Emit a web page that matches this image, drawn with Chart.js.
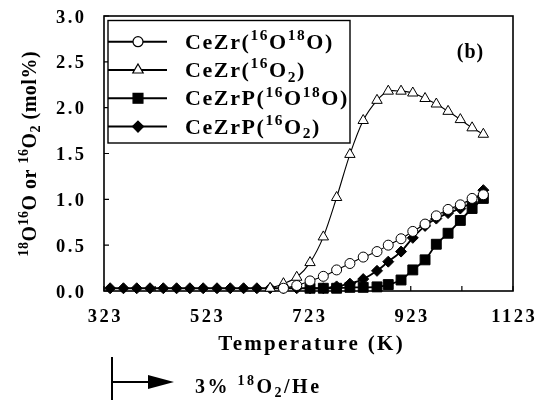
<!DOCTYPE html>
<html>
<head>
<meta charset="utf-8">
<script src="https://cdn.jsdelivr.net/npm/chart.js@4.4.0/dist/chart.umd.min.js"></script>
<style>
  html, body { margin: 0; padding: 0; background: #fff; }
</style>
</head>
<body>
<canvas id="chart" width="537" height="400"></canvas>
<script>
// =============================
// DATOS
// =============================
const temps = [335, 361, 387, 413, 439, 465, 491, 517, 544, 570, 596, 622, 648, 674, 700,
  726, 752, 778, 804, 830, 857, 879, 904, 927, 951, 973, 996, 1020, 1043, 1065];

// CeZr(16O18O) - círculos abiertos
const cezrMixed = [null, null, null, null, null, null, null, null, null, null, null, null, null, 0.03, 0.06,
  0.11, 0.16, 0.23, 0.30, 0.37, 0.43, 0.50, 0.57, 0.65, 0.73, 0.82, 0.89, 0.94, 1.01, 1.05];
// CeZr(16O2) - triángulos abiertos
const cezrO2 = [null, null, null, null, null, null, null, null, null, null, null, null, 0.03, 0.08, 0.15,
  0.31, 0.59, 1.02, 1.49, 1.86, 2.08, 2.18, 2.18, 2.16, 2.10, 2.04, 1.96, 1.87, 1.78, 1.71];
// CeZrP(16O18O) - cuadrados llenos
const cezrpMixed = [null, null, null, null, null, null, null, null, null, null, null, null, null, null, null,
  0.03, 0.03, 0.03, 0.04, 0.04, 0.045, 0.07, 0.12, 0.23, 0.34, 0.51, 0.63, 0.77, 0.90, 1.01];
// CeZrP(16O2) - rombos llenos
const cezrpO2 = [0.03, 0.03, 0.03, 0.03, 0.03, 0.03, 0.03, 0.03, 0.03, 0.03, 0.03, 0.03, 0.03, 0.03, 0.03,
  0.03, 0.03, 0.05, 0.08, 0.13, 0.22, 0.32, 0.43, 0.58, 0.71, 0.79, 0.85, 0.90, 0.97, 1.10];

const xTicks = [323, 423, 523, 623, 723, 823, 923, 1023, 1123];
const yTicks = [0, 0.5, 1.0, 1.5, 2.0, 2.5, 3.0];

const seriesLabels = ["CeZr(¹⁶O¹⁸O)", "CeZr(¹⁶O₂)", "CeZrP(¹⁶O¹⁸O)", "CeZrP(¹⁶O₂)"];
const yTitle = "¹⁸O¹⁶O or ¹⁶O₂ (mol%)";
const xTitle = "Temperature (K)";
const panelTag = "(b)";
const feedNote = "3% ¹⁸O₂/He";

const toPoints = (vals) => temps.map((t, i) => ({ x: t, y: vals[i] }));
const xLabel = (v) => ((v - 323) % 200 === 0 ? String(v) : "");
const yLabel = (v) => v.toFixed(1);

// =============================
// TEXTO CON SUPER/SUBÍNDICES
// =============================
const SERIF = '"Liberation Serif", "Times New Roman", serif';
const font = (size) => "bold " + size + "px " + SERIF;
const SUP = { "⁰": "0", "¹": "1", "²": "2", "³": "3", "⁴": "4", "⁵": "5", "⁶": "6", "⁷": "7", "⁸": "8", "⁹": "9" };
const SUB = { "₀": "0", "₁": "1", "₂": "2", "₃": "3", "₄": "4", "₅": "5", "₆": "6", "₇": "7", "₈": "8", "₉": "9" };

function parts(str) {
  const out = [];
  for (const ch of str) {
    const m = SUP[ch] ? 1 : SUB[ch] ? -1 : 0;
    const c = m === 1 ? SUP[ch] : m === -1 ? SUB[ch] : ch;
    const last = out[out.length - 1];
    if (last && last.m === m) last.t += c;
    else out.push({ t: c, m: m });
  }
  return out;
}

function drawRich(ctx, str, x, y, size, sp, align) {
  ctx.save();
  ctx.textAlign = "left";
  ctx.textBaseline = "alphabetic";
  ctx.fillStyle = "#000";
  ctx.letterSpacing = sp + "px";
  const ps = parts(str);
  let w = 0;
  ps.forEach((p) => {
    ctx.font = font(p.m ? size * 0.7 : size);
    w += ctx.measureText(p.t).width;
  });
  w -= sp; // sin espacio tras el último carácter
  let cx = align === "center" ? x - w / 2 : align === "right" ? x - w : x;
  ps.forEach((p) => {
    ctx.font = font(p.m ? size * 0.7 : size);
    const dy = p.m === 1 ? -size * 0.4 : p.m === -1 ? size * 0.22 : 0;
    ctx.fillText(p.t, cx, y + dy);
    cx += ctx.measureText(p.t).width;
  });
  ctx.restore();
}

function marker(ctx, style, x, y, r) {
  ctx.beginPath();
  if (style === "circle") {
    ctx.arc(x, y, r, 0, Math.PI * 2);
  } else if (style === "triangle") {
    for (let k = 0; k < 3; k++) {
      const a = k * (Math.PI * 2 / 3);
      ctx[k ? "lineTo" : "moveTo"](x + Math.sin(a) * r, y - Math.cos(a) * r);
    }
    ctx.closePath();
  } else if (style === "rect") {
    const s = Math.SQRT1_2 * r;
    ctx.rect(x - s, y - s, 2 * s, 2 * s);
  } else {
    ctx.moveTo(x, y - r); ctx.lineTo(x + r, y); ctx.lineTo(x, y + r); ctx.lineTo(x - r, y);
    ctx.closePath();
  }
}

// =============================
// PLUGIN: marco, ticks, leyenda, anotaciones
// =============================
const decor = {
  id: "decor",
  beforeDatasetsDraw(chart) {
    const { ctx, chartArea: a, scales } = chart;
    ctx.save();
    ctx.strokeStyle = "#000";
    ctx.lineWidth = 1.6;
    ctx.strokeRect(a.left, a.top, a.right - a.left, a.bottom - a.top);
    // ticks hacia dentro + etiquetas
    ctx.lineWidth = 1.2;
    ctx.beginPath();
    scales.y.ticks.forEach((t) => {
      const py = scales.y.getPixelForValue(t.value);
      ctx.moveTo(a.left, py); ctx.lineTo(a.left + 5, py);
      drawRich(ctx, yLabel(t.value), a.left - 20, py + 6.5, 18.5, 2.5, "right");
    });
    scales.x.ticks.forEach((t) => {
      const px = scales.x.getPixelForValue(t.value);
      ctx.moveTo(px, a.bottom); ctx.lineTo(px, a.bottom - 5);
      drawRich(ctx, xLabel(t.value), px, a.bottom + 31, 18.5, 2.5, "center");
    });
    ctx.stroke();
    ctx.restore();
  },
  afterDraw(chart) {
    const { ctx, chartArea: a } = chart;
    ctx.save();

    // leyenda con borde
    const box = { l: 108, t: 20.5, r: 350, b: 143 };
    ctx.fillStyle = "#fff";
    ctx.fillRect(box.l, box.t, box.r - box.l, box.b - box.t);
    ctx.strokeStyle = "#000";
    ctx.lineWidth = 1.4;
    ctx.strokeRect(box.l, box.t, box.r - box.l, box.b - box.t);
    chart.data.datasets.forEach((ds, i) => {
      const ry = 41.7 + i * 28.3;
      ctx.lineWidth = 2;
      ctx.beginPath();
      ctx.moveTo(box.l, ry); ctx.lineTo(167, ry);
      ctx.stroke();
      marker(ctx, ds.pointStyle, 138, ry, ds.pointRadius);
      ctx.fillStyle = ds.pointBackgroundColor;
      ctx.fill();
      ctx.lineWidth = 1.2;
      ctx.stroke();
      drawRich(ctx, ds.label, 185, ry + 7, 22, 1.6, "left");
    });

    // etiqueta del panel
    drawRich(ctx, panelTag, 470, 58, 20, 1, "center");

    // títulos de ejes
    drawRich(ctx, xTitle, (a.left + a.right) / 2 + 2, 350, 21, 2.3, "center");
    ctx.save();
    ctx.translate(29, 154);
    ctx.rotate(-Math.PI / 2);
    drawRich(ctx, yTitle, 0, 7, 20, 0.5, "center");
    ctx.restore();

    // flecha de alimentación 3% 18O2/He
    ctx.strokeStyle = "#000";
    ctx.fillStyle = "#000";
    ctx.lineWidth = 2;
    ctx.beginPath();
    ctx.moveTo(112, 357); ctx.lineTo(112, 400);
    ctx.moveTo(112, 382); ctx.lineTo(152, 382);
    ctx.stroke();
    ctx.beginPath();
    ctx.moveTo(148, 375); ctx.lineTo(174, 382); ctx.lineTo(148, 389);
    ctx.closePath();
    ctx.fill();
    drawRich(ctx, feedNote, 195, 393, 20, 2.5, "left");
    ctx.restore();
  },
};

// =============================
// GRÁFICO
// =============================
new Chart(document.getElementById("chart"), {
  type: "line",
  data: {
    datasets: [
      {
        label: seriesLabels[0],
        data: toPoints(cezrMixed),
        borderColor: "#000", borderWidth: 1.1,
        pointStyle: "circle", pointRadius: 5,
        pointBackgroundColor: "#fff", pointBorderColor: "#000", pointBorderWidth: 1,
        tension: 0.3, clip: false,
      },
      {
        label: seriesLabels[1],
        data: toPoints(cezrO2),
        borderColor: "#000", borderWidth: 1.1,
        pointStyle: "triangle", pointRadius: 6,
        pointBackgroundColor: "#fff", pointBorderColor: "#000", pointBorderWidth: 1,
        tension: 0.3, clip: false,
      },
      {
        label: seriesLabels[2],
        data: toPoints(cezrpMixed),
        borderColor: "#000", borderWidth: 1.8,
        pointStyle: "rect", pointRadius: 7,
        pointBackgroundColor: "#000", pointBorderColor: "#000", pointBorderWidth: 1,
        tension: 0.3, clip: false,
      },
      {
        label: seriesLabels[3],
        data: toPoints(cezrpO2),
        borderColor: "#000", borderWidth: 1.8,
        pointStyle: "rectRot", pointRadius: 5.5,
        pointBackgroundColor: "#000", pointBorderColor: "#000", pointBorderWidth: 1,
        tension: 0.3, clip: false,
      },
    ],
  },
  options: {
    responsive: false,
    animation: false,
    layout: { padding: { top: 16, right: 24, left: 0, bottom: 0 } },
    plugins: { legend: { display: false }, tooltip: { enabled: false } },
    scales: {
      x: {
        type: "linear",
        min: 323,
        max: 1123,
        afterBuildTicks: (s) => { s.ticks = xTicks.map((v) => ({ value: v })); },
        afterFit: (s) => { s.height = 109; },
        grid: { display: false },
        border: { display: false },
        ticks: { display: false },
      },
      y: {
        min: 0,
        max: 3,
        afterBuildTicks: (s) => { s.ticks = yTicks.map((v) => ({ value: v })); },
        afterFit: (s) => { s.width = 104; },
        grid: { display: false },
        border: { display: false },
        ticks: { display: false },
      },
    },
  },
  plugins: [decor],
});
</script>
</body>
</html>
